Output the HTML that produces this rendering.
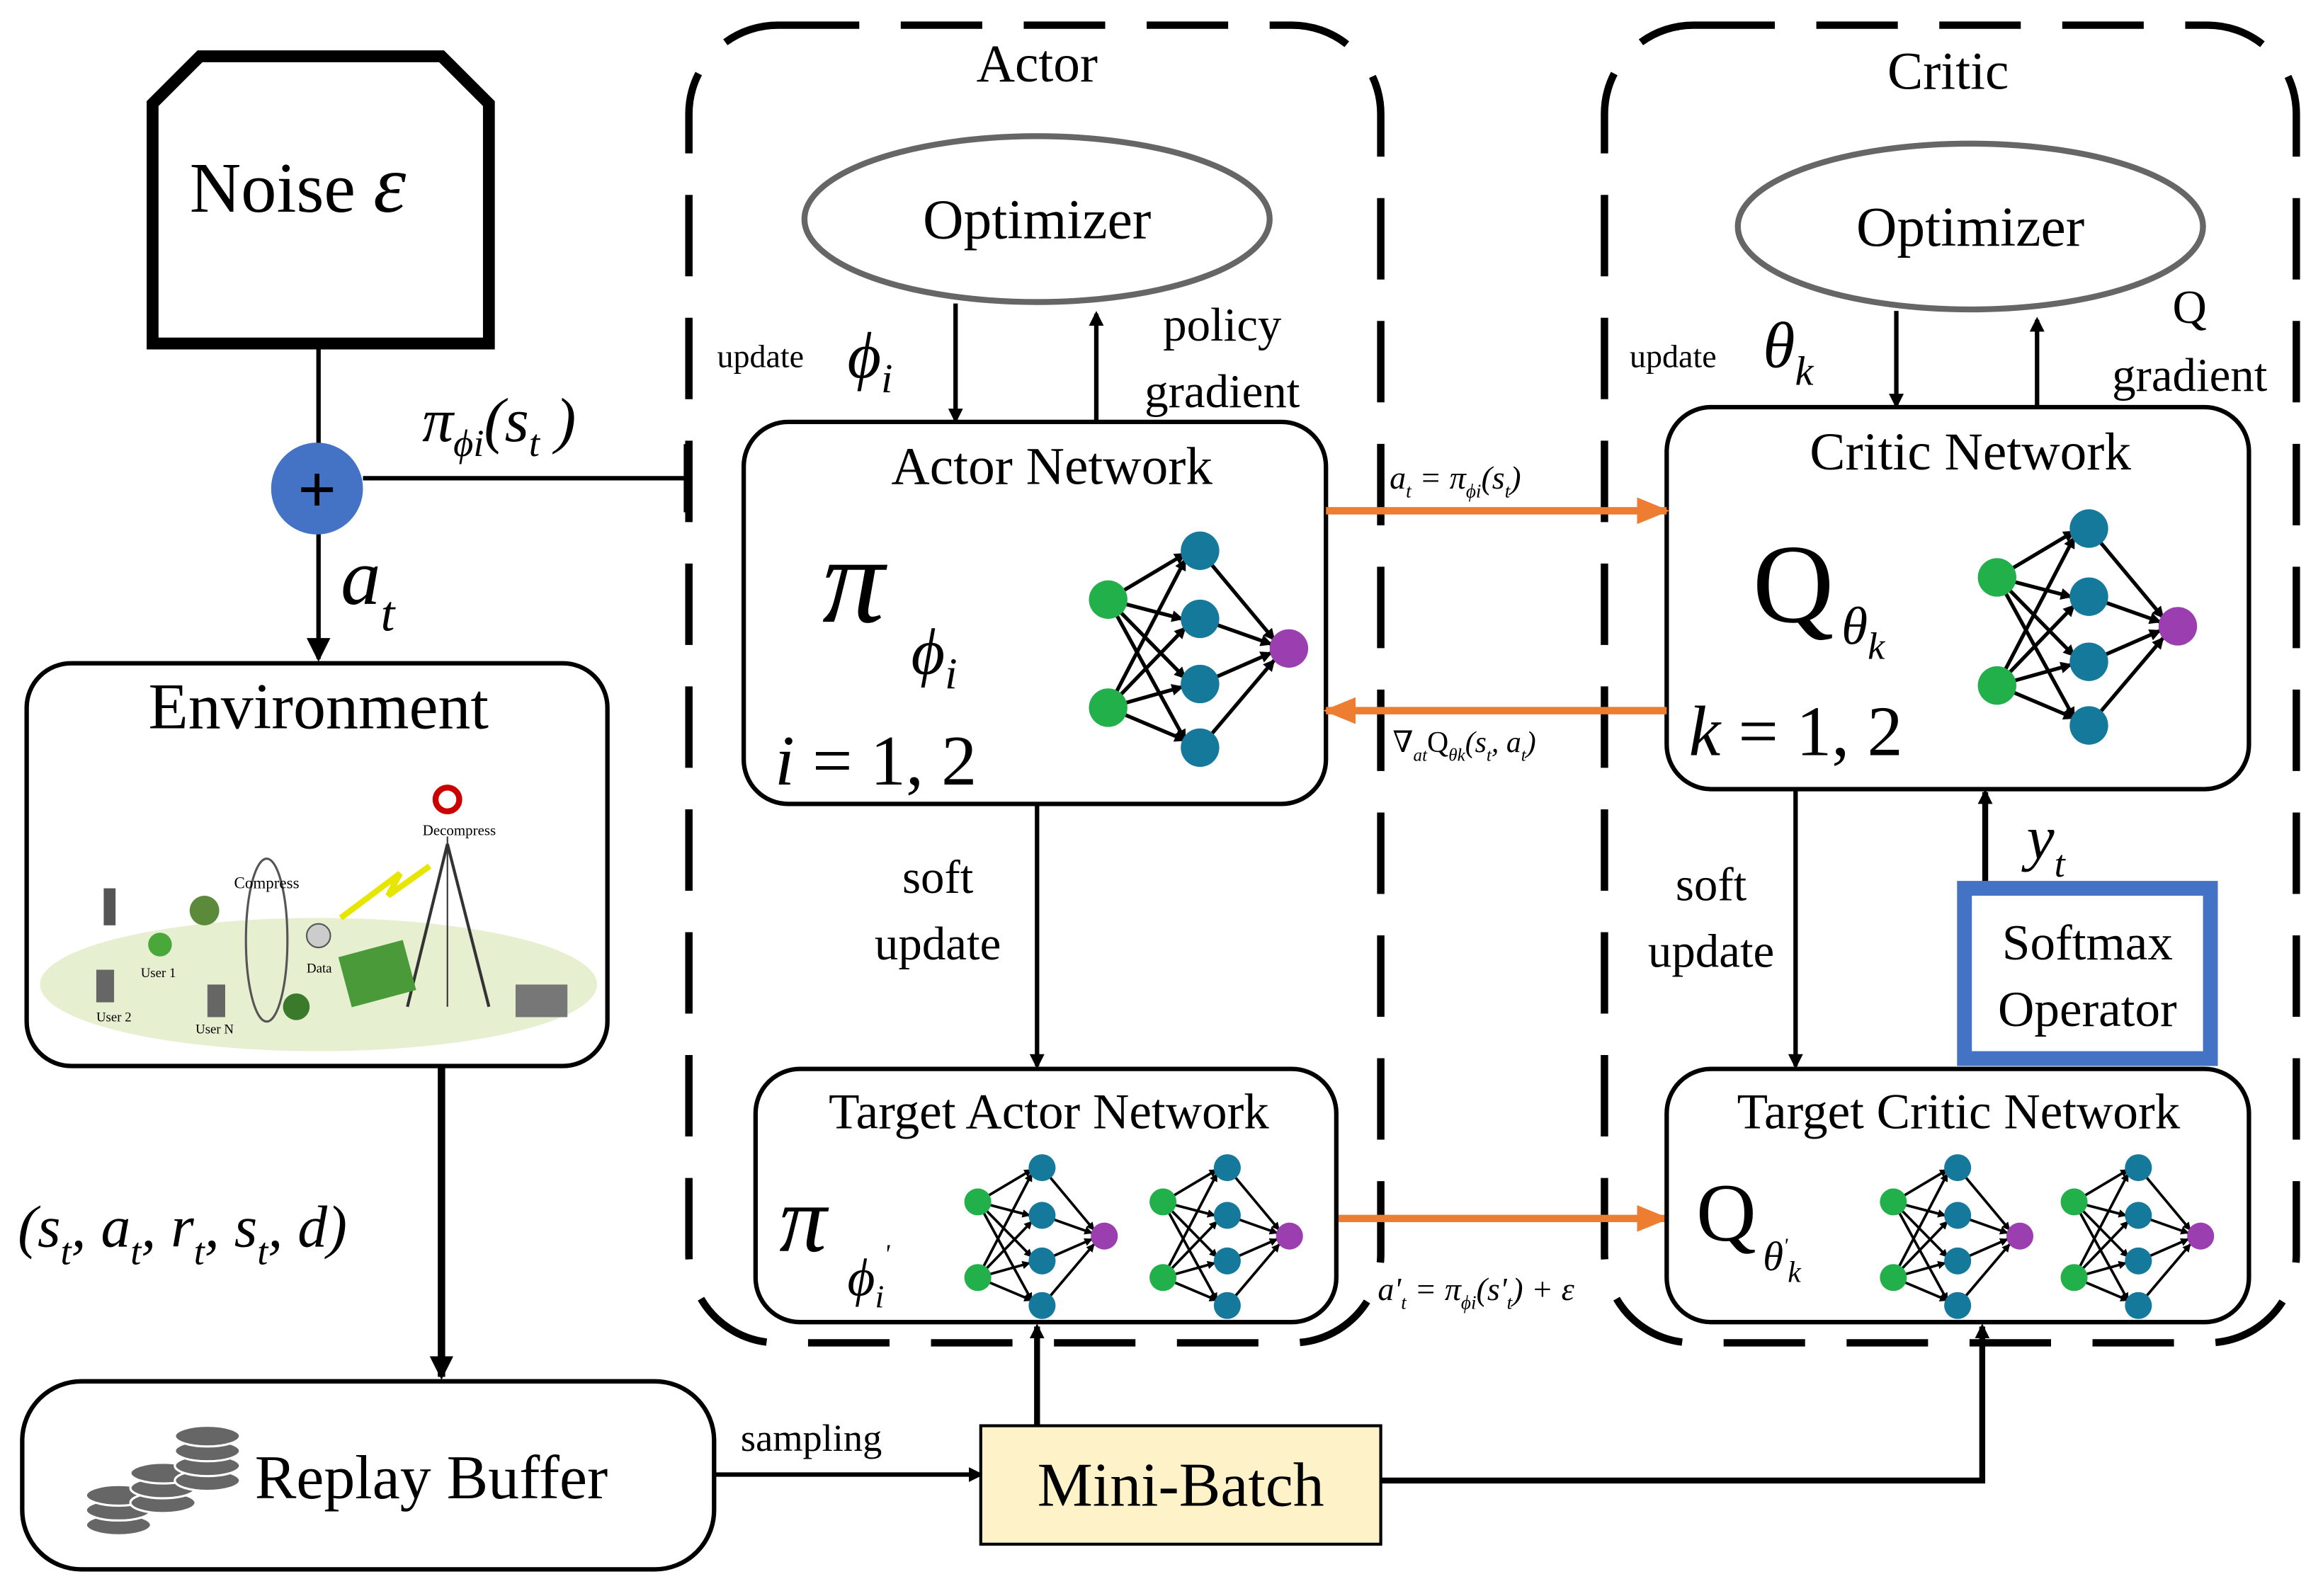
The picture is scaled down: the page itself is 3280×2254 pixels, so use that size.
<!DOCTYPE html>
<html><head><meta charset="utf-8"><style>
html,body{margin:0;padding:0;background:#fff;}
svg{display:block;}
text{font-family:"Liberation Serif","DejaVu Serif",serif;fill:#000;}
</style></head><body>
<svg width="3280" height="2254" viewBox="0 0 1568 1078" preserveAspectRatio="none" xmlns="http://www.w3.org/2000/svg">
<defs>
<marker id="ak" markerWidth="10" markerHeight="10" refX="8" refY="5" orient="auto" markerUnits="userSpaceOnUse"><path d="M0,0 L10,5 L0,10 z" fill="#000"/></marker>
<marker id="ab" markerWidth="16" markerHeight="16" refX="14" refY="8" orient="auto" markerUnits="userSpaceOnUse"><path d="M0,0 L16,8 L0,16 z" fill="#000"/></marker>
<marker id="ao" markerWidth="22" markerHeight="18" refX="20" refY="9" orient="auto" markerUnits="userSpaceOnUse"><path d="M0,0 L22,9 L0,18 z" fill="#ED7D31"/></marker>
<marker id="an" markerWidth="8" markerHeight="8" refX="7" refY="4" orient="auto" markerUnits="userSpaceOnUse"><path d="M0,0 L8,4 L0,8 z" fill="#000"/></marker>
</defs>
<rect width="1568" height="1078" fill="#fff"/>

<rect x="465" y="17" width="467" height="890" rx="60" fill="none" stroke="#000" stroke-width="5" stroke-dasharray="55 28"/>
<rect x="1083" y="17" width="467" height="890" rx="60" fill="none" stroke="#000" stroke-width="5" stroke-dasharray="55 28"/>
<text x="700" y="55" font-size="36" text-anchor="middle">Actor</text>
<text x="1315" y="60" font-size="36" text-anchor="middle">Critic</text>

<path d="M103,232 L103,70 L135,38 L298,38 L330,70 L330,232 Z" fill="#fff" stroke="#000" stroke-width="8"/>
<text x="128" y="143" font-size="48">Noise <tspan font-style="italic" font-size="56">ε</tspan></text>
<line x1="215" y1="232" x2="215" y2="300" stroke="#000" stroke-width="3"/>
<line x1="215" y1="360" x2="215" y2="445" stroke="#000" stroke-width="3" marker-end="url(#ab)"/>
<line x1="245" y1="323" x2="463" y2="323" stroke="#000" stroke-width="3"/>
<line x1="463" y1="300" x2="463" y2="346" stroke="#000" stroke-width="3"/>
<circle cx="214" cy="330" r="31" fill="#4472C4"/>
<text x="214" y="346" font-size="46" font-weight="bold" text-anchor="middle" font-family="Liberation Sans,sans-serif">+</text>
<text x="285" y="298" font-size="42" font-style="italic">π<tspan font-size="26" dy="10">ϕi</tspan><tspan dy="-10">(s</tspan><tspan font-size="26" dy="10">t</tspan><tspan dy="-10"> )</tspan></text>
<text x="230" y="408" font-size="54" font-style="italic">a<tspan font-size="34" dy="18">t</tspan></text>

<rect x="18" y="448" width="392" height="272" rx="30" fill="#fff" stroke="#000" stroke-width="3"/>
<text x="215" y="492" font-size="44" text-anchor="middle">Environment</text>
<ellipse cx="215" cy="665" rx="188" ry="45" fill="#e6efcf"/>
<line x1="302" y1="570" x2="275" y2="680" stroke="#333" stroke-width="2"/>
<line x1="302" y1="570" x2="330" y2="680" stroke="#333" stroke-width="2"/>
<line x1="302" y1="565" x2="302" y2="680" stroke="#333" stroke-width="1"/>
<rect x="348" y="665" width="35" height="22" fill="#777"/>
<ellipse cx="180" cy="635" rx="14" ry="55" fill="none" stroke="#555" stroke-width="1.5"/>
<circle cx="215" cy="632" r="8" fill="#ccc" stroke="#555"/>
<rect x="232" y="640" width="45" height="35" fill="#4a9a3a" transform="rotate(-15 255 657)"/>
<circle cx="108" cy="638" r="8" fill="#4aa83a"/><circle cx="138" cy="615" r="10" fill="#5a8a3a"/>
<circle cx="200" cy="680" r="9" fill="#3a7a2a"/>
<rect x="70" y="600" width="8" height="25" fill="#555"/>
<rect x="65" y="655" width="12" height="22" fill="#666"/>
<rect x="140" y="665" width="12" height="22" fill="#666"/>
<path d="M230,620 L270,590 L262,605 L290,585" fill="none" stroke="#e6e600" stroke-width="4"/>
<circle cx="302" cy="540" r="8" fill="none" stroke="#c00" stroke-width="4"/>
<text x="310" y="564" font-size="10" text-anchor="middle">Decompress</text>
<text x="180" y="600" font-size="11" text-anchor="middle">Compress</text>
<text x="95" y="660" font-size="9">User 1</text>
<text x="65" y="690" font-size="9">User 2</text>
<text x="132" y="698" font-size="9">User N</text>
<text x="207" y="657" font-size="9">Data</text>

<line x1="298" y1="720" x2="298" y2="930" stroke="#000" stroke-width="5" marker-end="url(#ab)"/>
<text x="12" y="842" font-size="40" font-style="italic">(s<tspan font-size="26" dy="12">t</tspan><tspan dy="-12">, a</tspan><tspan font-size="26" dy="12">t</tspan><tspan dy="-12">, r</tspan><tspan font-size="26" dy="12">t</tspan><tspan dy="-12">, s</tspan><tspan font-size="26" dy="12">t</tspan><tspan dy="-12">, d)</tspan></text>

<rect x="15" y="933" width="467" height="127" rx="40" fill="#fff" stroke="#000" stroke-width="3"/>
<g fill="#666" stroke="#fff" stroke-width="1.5">
<ellipse cx="80" cy="1030" rx="22" ry="7"/><ellipse cx="80" cy="1020" rx="22" ry="7"/><ellipse cx="80" cy="1010" rx="22" ry="7"/>
<ellipse cx="110" cy="1015" rx="22" ry="7"/><ellipse cx="110" cy="1005" rx="22" ry="7"/><ellipse cx="110" cy="995" rx="22" ry="7"/>
<ellipse cx="140" cy="1000" rx="22" ry="7"/><ellipse cx="140" cy="990" rx="22" ry="7"/><ellipse cx="140" cy="980" rx="22" ry="7"/><ellipse cx="140" cy="970" rx="22" ry="7"/>
</g>
<text x="172" y="1012" font-size="42">Replay Buffer</text>
<line x1="482" y1="996" x2="662" y2="996" stroke="#000" stroke-width="3" marker-end="url(#ak)"/>
<text x="500" y="980" font-size="26">sampling</text>

<rect x="662" y="963" width="270" height="80" fill="#fdf2c8" stroke="#000" stroke-width="2"/>
<text x="797" y="1017" font-size="42" text-anchor="middle">Mini-Batch</text>
<line x1="700" y1="963" x2="700" y2="896" stroke="#000" stroke-width="4" marker-end="url(#ak)"/>
<polyline points="932,1000 1338,1000 1338,896" fill="none" stroke="#000" stroke-width="4" marker-end="url(#ak)"/>

<ellipse cx="700" cy="148" rx="157" ry="56" fill="#fff" stroke="#666" stroke-width="4"/>
<text x="700" y="161" font-size="38" text-anchor="middle">Optimizer</text>
<line x1="645" y1="205" x2="645" y2="284" stroke="#000" stroke-width="3" marker-end="url(#ak)"/>
<line x1="740" y1="285" x2="740" y2="212" stroke="#000" stroke-width="3" marker-end="url(#ak)"/>
<text x="484" y="248" font-size="22">update</text>
<text x="572" y="255" font-size="44" font-style="italic">ϕ<tspan font-size="28" dy="10">i</tspan></text>
<text x="825" y="230" font-size="32" text-anchor="middle">policy</text>
<text x="825" y="275" font-size="32" text-anchor="middle">gradient</text>

<ellipse cx="1330" cy="153" rx="157" ry="56" fill="#fff" stroke="#666" stroke-width="4"/>
<text x="1330" y="166" font-size="38" text-anchor="middle">Optimizer</text>
<line x1="1280" y1="210" x2="1280" y2="274" stroke="#000" stroke-width="3" marker-end="url(#ak)"/>
<line x1="1375" y1="275" x2="1375" y2="216" stroke="#000" stroke-width="3" marker-end="url(#ak)"/>
<text x="1100" y="248" font-size="22">update</text>
<text x="1190" y="248" font-size="44" font-style="italic">θ<tspan font-size="28" dy="12">k</tspan></text>
<text x="1478" y="218" font-size="32" text-anchor="middle">Q</text>
<text x="1478" y="264" font-size="32" text-anchor="middle">gradient</text>

<rect x="502" y="285" width="393" height="258" rx="30" fill="#fff" stroke="#000" stroke-width="3"/>
<text x="710" y="327" font-size="36" text-anchor="middle">Actor Network</text>
<text x="555" y="420" font-size="84" font-style="italic">π</text>
<text x="615" y="455" font-size="44" font-style="italic">ϕ<tspan font-size="30" dy="10">i</tspan></text>
<text x="523" y="530" font-size="48"><tspan font-style="italic">i</tspan> = 1, 2</text>

<rect x="1125" y="275" width="393" height="258" rx="30" fill="#fff" stroke="#000" stroke-width="3"/>
<text x="1330" y="317" font-size="36" text-anchor="middle">Critic Network</text>
<text x="1183" y="420" font-size="76">Q</text>
<text x="1243" y="435" font-size="36" font-style="italic">θ<tspan font-size="26" dy="10">k</tspan></text>
<text x="1140" y="510" font-size="48"><tspan font-style="italic">k</tspan> = 1, 2</text>

<line x1="895" y1="345" x2="1125" y2="345" stroke="#ED7D31" stroke-width="5" marker-end="url(#ao)"/>
<text x="938" y="330" font-size="22" font-style="italic">a<tspan font-size="13" dy="6">t</tspan><tspan dy="-6"> = π</tspan><tspan font-size="13" dy="6">ϕi</tspan><tspan dy="-6">(s</tspan><tspan font-size="13" dy="6">t</tspan><tspan dy="-6">)</tspan></text>
<line x1="1125" y1="480" x2="895" y2="480" stroke="#ED7D31" stroke-width="5" marker-end="url(#ao)"/>
<text x="940" y="508" font-size="20" font-style="italic">∇<tspan font-size="12" dy="6">at</tspan><tspan dy="-6" font-style="normal">Q</tspan><tspan font-size="12" dy="6">θk</tspan><tspan dy="-6">(s</tspan><tspan font-size="12" dy="6">t</tspan><tspan dy="-6">, a</tspan><tspan font-size="12" dy="6">t</tspan><tspan dy="-6">)</tspan></text>
<line x1="902" y1="823" x2="1125" y2="823" stroke="#ED7D31" stroke-width="5" marker-end="url(#ao)"/>
<text x="930" y="878" font-size="22" font-style="italic">a'<tspan font-size="13" dy="6">t</tspan><tspan dy="-6"> = π</tspan><tspan font-size="13" dy="6">ϕi</tspan><tspan dy="-6">(s'</tspan><tspan font-size="13" dy="6">t</tspan><tspan dy="-6">) + ε</tspan></text>

<line x1="700" y1="543" x2="700" y2="720" stroke="#000" stroke-width="3" marker-end="url(#ak)"/>
<text x="633" y="603" font-size="32" text-anchor="middle">soft</text>
<text x="633" y="648" font-size="32" text-anchor="middle">update</text>
<line x1="1212" y1="533" x2="1212" y2="720" stroke="#000" stroke-width="3" marker-end="url(#ak)"/>
<text x="1155" y="608" font-size="32" text-anchor="middle">soft</text>
<text x="1155" y="653" font-size="32" text-anchor="middle">update</text>

<rect x="1326" y="600" width="166" height="115" fill="#fff" stroke="#4472C4" stroke-width="10"/>
<text x="1409" y="648" font-size="34" text-anchor="middle">Softmax</text>
<text x="1409" y="693" font-size="34" text-anchor="middle">Operator</text>
<line x1="1340" y1="595" x2="1340" y2="535" stroke="#000" stroke-width="4" marker-end="url(#ak)"/>
<text x="1368" y="580" font-size="42" font-style="italic">y<tspan font-size="26" dy="12">t</tspan></text>

<rect x="510" y="722" width="392" height="171" rx="30" fill="#fff" stroke="#000" stroke-width="3"/>
<text x="708" y="762" font-size="34" text-anchor="middle">Target Actor Network</text>
<text x="526" y="845" font-size="64" font-style="italic">π</text>
<text x="572" y="875" font-size="36" font-style="italic">ϕ<tspan font-size="22" dy="8">i</tspan><tspan font-size="18" dy="-30">'</tspan></text>

<rect x="1125" y="722" width="393" height="171" rx="30" fill="#fff" stroke="#000" stroke-width="3"/>
<text x="1322" y="762" font-size="34" text-anchor="middle">Target Critic Network</text>
<text x="1145" y="838" font-size="56">Q</text>
<text x="1190" y="858" font-size="28" font-style="italic">θ<tspan font-size="14" dy="-12">'</tspan><tspan font-size="20" dy="20">k</tspan></text>

<g id="nnbig">
<g stroke="#000" stroke-width="2.5" marker-end="url(#an)">
<line x1="748" y1="405" x2="800" y2="374"/><line x1="748" y1="405" x2="798" y2="418"/><line x1="748" y1="405" x2="800" y2="458"/><line x1="748" y1="405" x2="800" y2="500"/>
<line x1="748" y1="478" x2="800" y2="378"/><line x1="748" y1="478" x2="800" y2="424"/><line x1="748" y1="478" x2="798" y2="464"/><line x1="748" y1="478" x2="800" y2="500"/>
<line x1="810" y1="372" x2="860" y2="432"/><line x1="810" y1="418" x2="858" y2="435"/><line x1="810" y1="462" x2="858" y2="441"/><line x1="810" y1="505" x2="860" y2="446"/>
</g>
<circle cx="748" cy="405" r="13" fill="#22b04a"/><circle cx="748" cy="478" r="13" fill="#22b04a"/>
<circle cx="810" cy="372" r="13" fill="#15799b"/><circle cx="810" cy="418" r="13" fill="#15799b"/><circle cx="810" cy="462" r="13" fill="#15799b"/><circle cx="810" cy="505" r="13" fill="#15799b"/>
<circle cx="870" cy="438" r="13" fill="#9b3fb0"/>
</g>
<use href="#nnbig" transform="translate(600,-15)"/>
<g id="nnsm" transform="translate(660,837) scale(0.7) translate(-748,-441)">
<use href="#nnbig"/>
</g>
<use href="#nnsm" transform="translate(125,0)"/>
<use href="#nnsm" transform="translate(618,0)"/>
<use href="#nnsm" transform="translate(740,0)"/>
</svg>
</body></html>
